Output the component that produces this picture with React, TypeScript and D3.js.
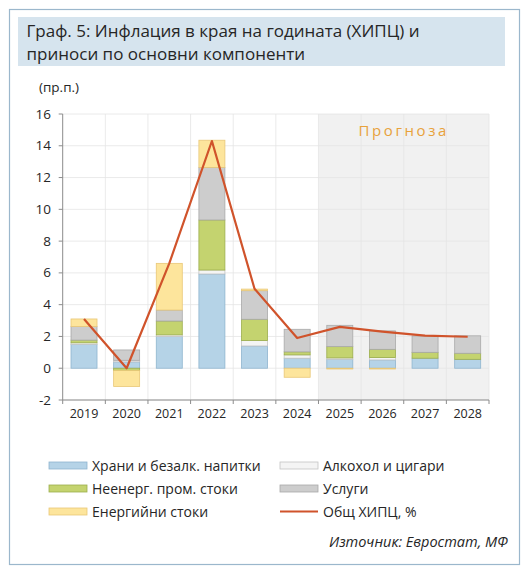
import React from "react";
import * as d3 from "d3";

const years = ["2019","2020","2021","2022","2023","2024","2025","2026","2027","2028"];
const food =      [1.50, 0.40, 1.99, 5.93, 1.40, 0.63, 0.56, 0.52, 0.63, 0.56];
const alcohol =   [0.10, 0.10, 0.11, 0.25, 0.34, 0.21, 0.09, 0.15, 0.00, 0.00];
const nonEnergy = [0.17, -0.15, 0.87, 3.15, 1.34, 0.19, 0.71, 0.52, 0.37, 0.38];
const services =  [0.85, 0.65, 0.69, 3.31, 1.80, 1.42, 1.34, 1.16, 1.03, 1.10];
const energy =    [0.48, -1.00, 2.94, 1.71, 0.10, -0.57, -0.05, -0.05, 0.00, 0.00];
const hicp =      [3.10, 0.00, 6.60, 14.30, 5.00, 1.90, 2.60, 2.30, 2.05, 1.98];
const yTicks = [-2, 0, 2, 4, 6, 8, 10, 12, 14, 16];
const forecastStart = "2025";

const seriesNames = ["Храни и безалк. напитки","Алкохол и цигари","Неенерг. пром. стоки","Услуги","Енергийни стоки"];
const fills = ["#b5d3e7","#f4f4f4","#c4d36f","#cdcdcd","#fde59c"];
const strokes = ["#8fb5cf","#c4c4c4","#9cae4d","#a9a9a9","#e9c777"];
const lineColor = "#d0532b";

export default function App() {
  const W = 529, H = 575;
  const left = 62.7, right = 489, top = 114, bottom = 400;
  const x = d3.scaleBand().domain(years).range([left, right]).paddingInner(0.39).paddingOuter(0.195);
  const xb = d3.scaleBand().domain(years).range([left, right]);
  const y = d3.scaleLinear().domain([-2, 16]).range([bottom, top]);

  const rows = years.map((yr, i) => ({ yr, s0: food[i], s1: alcohol[i], s2: nonEnergy[i], s3: services[i], s4: energy[i] }));
  const keys = ["s0","s1","s2","s3","s4"];
  const stacked = d3.stack<any>().keys(keys).offset(d3.stackOffsetDiverging)(rows);

  const line = d3.line<number>().x((_, i) => xb(years[i])! + xb.bandwidth() / 2).y(d => y(d));
  const fx = xb(forecastStart)!;
  const font = "'Open Sans', sans-serif";

  const legend = [
    { t: seriesNames[0], i: 0, col: 0, row: 0 },
    { t: seriesNames[1], i: 1, col: 1, row: 0 },
    { t: seriesNames[2], i: 2, col: 0, row: 1 },
    { t: seriesNames[3], i: 3, col: 1, row: 1 },
    { t: seriesNames[4], i: 4, col: 0, row: 2 },
  ];

  return (
    <svg width={W} height={H} style={{ position: "absolute", left: 0, top: 0 }} fontFamily={font}>
      <rect x={0} y={0} width={W} height={H} fill="#fff" />
      <rect x={9.5} y={9.5} width={510} height={555} fill="#fff" stroke="#9bb7cc" strokeWidth={1.2} />
      <rect x={18} y={17} width={487} height={49} fill="#d6e4ee" />
      <text x={26.5} y={37} fontSize={17} fill="#262626">Граф. 5: Инфлация в края на годината (ХИПЦ) и</text>
      <text x={26.5} y={60} fontSize={17} fill="#262626">приноси по основни компоненти</text>

      <rect x={fx} y={top} width={right - fx} height={bottom - top} fill="#f1f1f1" />
      {yTicks.map(t => (
        <line key={"h" + t} x1={left} x2={right} y1={y(t)} y2={y(t)} stroke="#e4e4e4" strokeWidth={0.8} />
      ))}
      {years.map(yr => (
        <line key={"v" + yr} x1={xb(yr)! + xb.bandwidth()} x2={xb(yr)! + xb.bandwidth()} y1={top} y2={bottom} stroke="#e4e4e4" strokeWidth={0.8} />
      ))}

      {stacked.map((s, si) => (
        <g key={si}>
          {s.map((d, j) => {
            const y0 = y(Math.max(d[0], d[1]));
            const y1 = y(Math.min(d[0], d[1]));
            if (Math.abs(d[1] - d[0]) < 1e-6) return null;
            return (
              <rect key={j} x={x(years[j])} y={y0} width={x.bandwidth()} height={y1 - y0}
                fill={fills[si]} stroke={strokes[si]} strokeWidth={0.8} />
            );
          })}
        </g>
      ))}

      <path d={line(hicp)!} fill="none" stroke={lineColor} strokeWidth={2.2} strokeLinejoin="round" />

      <line x1={left} x2={left} y1={top} y2={bottom} stroke="#8c8c8c" strokeWidth={1} />
      <line x1={left} x2={right} y1={bottom} y2={bottom} stroke="#8c8c8c" strokeWidth={1} />
      {yTicks.map(t => (
        <line key={"yt" + t} x1={left - 4} x2={left} y1={y(t)} y2={y(t)} stroke="#8c8c8c" />
      ))}
      {[left, ...years.map(yr => xb(yr)! + xb.bandwidth())].map((xx, i) => (
        <line key={"xt" + i} x1={xx} x2={xx} y1={bottom} y2={bottom + 4} stroke="#8c8c8c" />
      ))}
      {yTicks.map(t => (
        <text key={"yl" + t} x={51} y={y(t) + 4.5} fontSize={13.5} textAnchor="end" fill="#262626">{t}</text>
      ))}
      {years.map(yr => (
        <text key={"xl" + yr} x={xb(yr)! + xb.bandwidth() / 2} y={418} fontSize={12.5} textAnchor="middle" fill="#262626">{yr}</text>
      ))}
      <text x={39} y={92} fontSize={13.5} fill="#262626">(пр.п.)</text>
      <text x={(fx + right) / 2} y={136} fontSize={15} letterSpacing={2.6} textAnchor="middle" fill="#e8a23c">Прогноза</text>

      {legend.map(l => {
        const lx = l.col === 0 ? 49 : 280;
        const ly = 465.5 + l.row * 23;
        return (
          <g key={l.t}>
            <rect x={lx} y={ly - 3.5} width={38} height={7} fill={fills[l.i]} stroke={strokes[l.i]} strokeWidth={0.8} />
            <text x={lx + 43} y={ly + 5} fontSize={14} fill="#262626">{l.t}</text>
          </g>
        );
      })}
      <line x1={280} x2={318} y1={511.5} y2={511.5} stroke={lineColor} strokeWidth={2} />
      <text x={323} y={516.5} fontSize={14} fill="#262626">Общ ХИПЦ, %</text>
      <text x={508} y={547} fontSize={14.5} fontStyle="italic" textAnchor="end" fill="#262626">Източник: Евростат, МФ</text>
    </svg>
  );
}
